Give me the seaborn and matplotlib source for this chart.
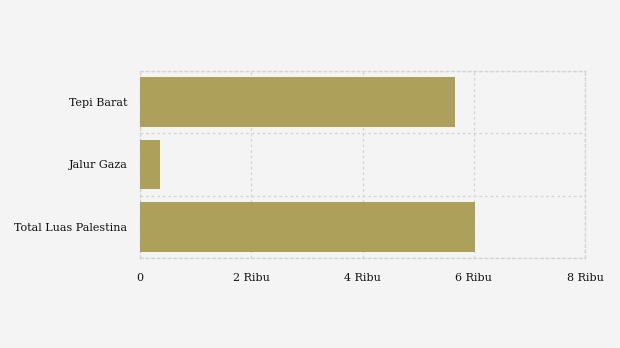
import matplotlib
matplotlib.use("Agg")
import matplotlib.pyplot as plt
import seaborn as sns
import pandas as pd
from matplotlib.ticker import FixedLocator

categories = ["Tepi Barat", "Jalur Gaza", "Total Luas Palestina"]
values = [5663, 360, 6020]
xticks = [0, 2000, 4000, 6000, 8000]
xticklabels = ["0", "2 Ribu", "4 Ribu", "6 Ribu", "8 Ribu"]

sns.set_style("white")
plt.rcParams["font.family"] = ["DejaVu Serif"]

df = pd.DataFrame({"cat": categories, "val": values})
fig = plt.figure(figsize=(6.2, 3.48), dpi=100, facecolor="#f4f4f4")
ax = fig.add_axes([140/620, 1-258/348, 445/620, 187/348])
ax.set_facecolor("#f4f4f4")
sns.barplot(data=df, x="val", y="cat", color="#ada05a", saturation=1, width=0.8, ax=ax, zorder=3)
for p in ax.patches:
    p.set_linewidth(0)
ax.set_xlim(0, 8000)
ax.set_ylim(2.5, -0.5)
ax.set_xticks(xticks)
ax.set_xticklabels(xticklabels, fontsize=8, color="#111111")
ax.tick_params(axis="y", labelsize=8, colors="#111111", length=5, width=0.8, color="#dddddd", pad=4)
ax.tick_params(axis="x", length=0, pad=11, colors="#111111")
ax.yaxis.set_minor_locator(FixedLocator([-0.5, 0.5, 1.5, 2.5]))
ax.grid(True, axis="x", which="major", color="#d6d6d6", linestyle=(0, (2, 2)), linewidth=1)
ax.grid(True, axis="y", which="minor", color="#d6d6d6", linestyle=(0, (2, 2)), linewidth=1)
ax.tick_params(axis="y", which="minor", length=0)
ax.set_axisbelow(True)
for s in ax.spines.values():
    s.set_visible(True)
    s.set_color("#d6d6d6")
    s.set_linestyle((0, (2, 2)))
    s.set_linewidth(1)
    s.set_zorder(1)
ax.set_xlabel("")
ax.set_ylabel("")
fig.savefig("out.png", dpi=100, facecolor="#f4f4f4")
